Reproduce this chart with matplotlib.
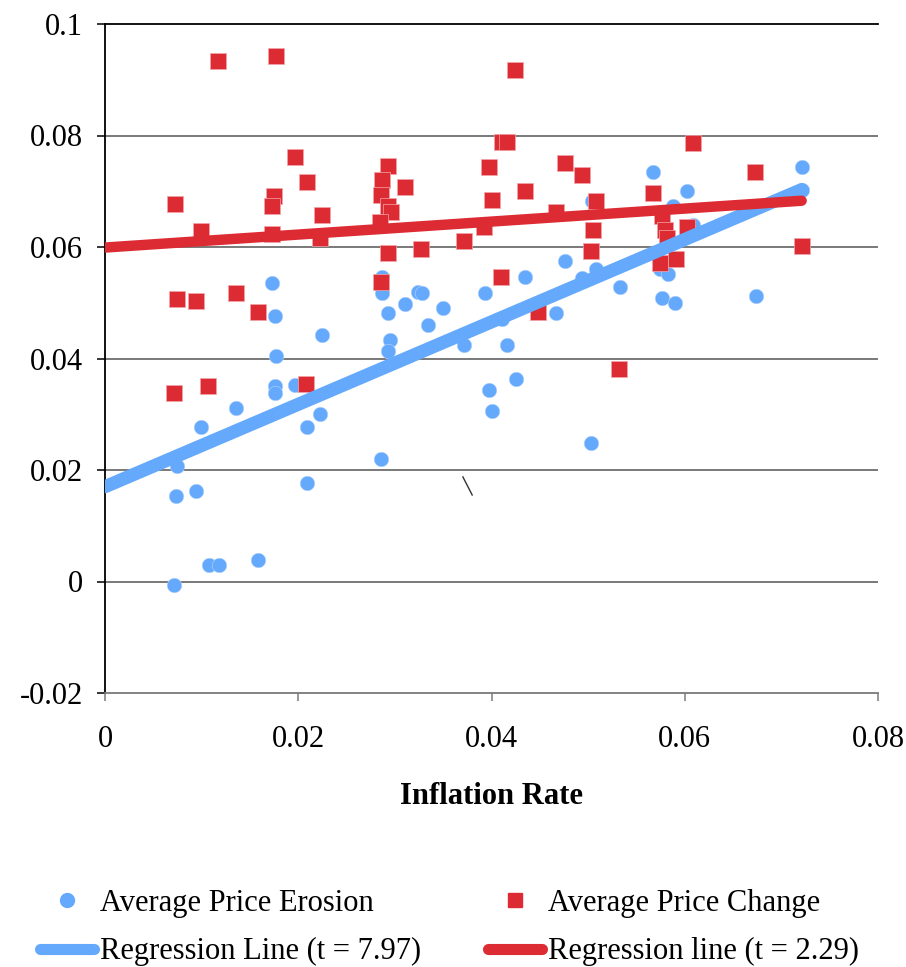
"""
nuage de points : érosion / variation moyenne des prix vs taux d'inflation
sortie : out.png
"""

import matplotlib.pyplot as plt
from matplotlib.lines import Line2D

# ── données ───────────────────────────────────────────────────────────────
erosion_x = [0.0173, 0.0176, 0.0225, 0.0177, 0.0176, 0.0176, 0.0197, 0.0136, 0.0099, 0.0222,
             0.0209, 0.0075, 0.0073, 0.0094, 0.0209, 0.0108, 0.0118, 0.0158, 0.0071, 0.0293,
             0.0310, 0.0350, 0.0334, 0.0295, 0.0293, 0.0372, 0.0416, 0.0411, 0.0467, 0.0425,
             0.0397, 0.0401, 0.0503, 0.0286, 0.0287, 0.0287, 0.0324, 0.0328, 0.0393, 0.0435,
             0.0567, 0.0602, 0.0504, 0.0588, 0.0609, 0.0476, 0.0494, 0.0508, 0.0533, 0.0574,
             0.0583, 0.0576, 0.0590, 0.0721, 0.0721, 0.0674]
erosion_y = [0.0535, 0.0477, 0.0443, 0.0405, 0.0350, 0.0339, 0.0353, 0.0312, 0.0278, 0.0301,
             0.0278, 0.0208, 0.0154, 0.0163, 0.0176, 0.0029, 0.0029, 0.0039, -0.0007, 0.0481,
             0.0497, 0.0491, 0.0460, 0.0434, 0.0413, 0.0425, 0.0425, 0.0470, 0.0482, 0.0364,
             0.0343, 0.0305, 0.0249, 0.0219, 0.0547, 0.0518, 0.0520, 0.0518, 0.0518, 0.0547,
             0.0734, 0.0700, 0.0682, 0.0673, 0.0639, 0.0574, 0.0545, 0.0561, 0.0529, 0.0560,
             0.0551, 0.0508, 0.0500, 0.0743, 0.0703, 0.0513]

change_x = [0.0117, 0.0177, 0.0424, 0.0072, 0.0099, 0.0075, 0.0094, 0.0136, 0.0158, 0.0197,
            0.0175, 0.0173, 0.0173, 0.0071, 0.0107, 0.0208, 0.0209, 0.0225, 0.0222, 0.0293,
            0.0287, 0.0286, 0.0293, 0.0296, 0.0285, 0.0310, 0.0293, 0.0327, 0.0372, 0.0286,
            0.0411, 0.0416, 0.0397, 0.0476, 0.0494, 0.0435, 0.0401, 0.0508, 0.0567, 0.0467,
            0.0392, 0.0505, 0.0503, 0.0410, 0.0448, 0.0609, 0.0673, 0.0576, 0.0580, 0.0602,
            0.0582, 0.0574, 0.0591, 0.0721, 0.0532]
change_y = [0.0933, 0.0942, 0.0917, 0.0678, 0.0628, 0.0506, 0.0504, 0.0517, 0.0484, 0.0761,
            0.0692, 0.0673, 0.0624, 0.0339, 0.0350, 0.0355, 0.0716, 0.0657, 0.0617, 0.0746,
            0.0721, 0.0694, 0.0673, 0.0662, 0.0644, 0.0707, 0.0590, 0.0597, 0.0610, 0.0538,
            0.0789, 0.0789, 0.0744, 0.0750, 0.0730, 0.0700, 0.0685, 0.0683, 0.0696, 0.0662,
            0.0635, 0.0631, 0.0592, 0.0547, 0.0483, 0.0787, 0.0735, 0.0655, 0.0630, 0.0635,
            0.0617, 0.0572, 0.0578, 0.0601, 0.0382]

# droites de régression (extrémités)
reg_x        = [0.0, 0.0721]
reg_erosion  = [0.0170, 0.0703]
reg_change   = [0.0599, 0.0683]

X_TICKS = [0, 0.02, 0.04, 0.06, 0.08]
Y_TICKS = [-0.02, 0, 0.02, 0.04, 0.06, 0.08, 0.1]
X_LABELS = ["0", "0.02", "0.04", "0.06", "0.08"]
Y_LABELS = ["-0.02", "0", "0.02", "0.04", "0.06", "0.08", "0.1"]

BLUE = "#64a9fc"
RED  = "#dd2b33"

plt.rcParams["font.family"] = ["Liberation Serif", "DejaVu Serif"]

fig = plt.figure(figsize=(9.06, 9.67), dpi=100, facecolor="white")
ax = fig.add_axes([105 / 906, 1 - 693 / 967, 773 / 906, 669 / 967])

# ── grille / axes ─────────────────────────────────────────────────────────
for yv in Y_TICKS[1:-1]:
    ax.axhline(yv, color="#6e6e6e", lw=1.3, zorder=1)

ax.spines[["right"]].set_visible(False)
ax.spines["top"].set_color("black")
ax.spines["top"].set_linewidth(1.3)
ax.spines["left"].set_color("black")
ax.spines["left"].set_linewidth(1.3)
ax.spines["bottom"].set_color("#7a7a7a")
ax.spines["bottom"].set_linewidth(1.3)

# ── séries ────────────────────────────────────────────────────────────────
ax.scatter(erosion_x, erosion_y, s=110, marker="o", color=BLUE,
           edgecolors="#b8d6fd", linewidths=0.4, zorder=3)
ax.scatter(change_x, change_y, s=120, marker="s", color=RED,
           edgecolors="#f2a6aa", linewidths=0.5, zorder=4)
ax.plot(reg_x, reg_erosion, color=BLUE, lw=9.5, solid_capstyle="round", zorder=5)
ax.plot(reg_x, reg_change, color=RED, lw=7.5, solid_capstyle="round", zorder=6)

# petit trait parasite présent dans l'original
ax.plot([0.463, 0.475], [0.323, 0.296], transform=ax.transAxes,
        color="#333333", lw=1.0, zorder=2)

ax.set_xlim(0, 0.08)
ax.set_ylim(-0.02, 0.1)
ax.set_xticks(X_TICKS)
ax.set_xticklabels(X_LABELS)
ax.set_yticks(Y_TICKS)
ax.set_yticklabels(Y_LABELS)
ax.tick_params(axis="x", direction="out", length=6, width=1.1, color="#7a7a7a",
               labelsize=22, pad=17)
ax.tick_params(axis="y", direction="out", length=6, width=1.1, color="black",
               labelsize=22, pad=10)

ax.set_xlabel("Inflation Rate", fontsize=22, fontweight="bold", labelpad=20)

# ── légende ───────────────────────────────────────────────────────────────
handles = [
    Line2D([], [], ls="none", marker="o", ms=10, color=BLUE),
    Line2D([], [], color=BLUE, lw=8, solid_capstyle="round"),
    Line2D([], [], ls="none", marker="s", ms=10, color=RED),
    Line2D([], [], color=RED, lw=8, solid_capstyle="round"),
]
labels = [
    "Average Price Erosion",
    "Regression Line (t = 7.97)",
    "Average Price Change",
    "Regression line (t = 2.29)",
]
fig.legend(handles, labels, ncol=2, frameon=False, fontsize=22,
           loc="lower left", bbox_to_anchor=(19 / 906, -0.0216),
           handlelength=1.75, handletextpad=0.2, columnspacing=2.2,
           labelspacing=0.64, borderpad=0.2)

fig.savefig("out.png", dpi=100, facecolor="white")
